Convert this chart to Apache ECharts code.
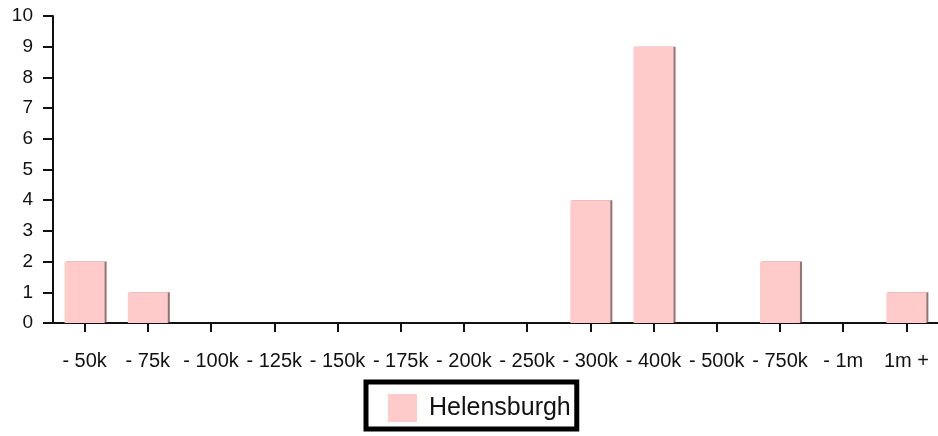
<!DOCTYPE html>
<html>
<head>
<meta charset="utf-8">
<script src="https://cdn.jsdelivr.net/npm/echarts@6/dist/echarts.min.js"></script>
<style>
  html, body { margin: 0; padding: 0; background: #fff; }
  #chart { width: 938px; height: 436px; }
</style>
</head>
<body>
<div id="chart"></div>
<script>
const categories = ['- 50k', '- 75k', '- 100k', '- 125k', '- 150k', '- 175k', '- 200k',
  '- 250k', '- 300k', '- 400k', '- 500k', '- 750k', '- 1m', '1m +']
const helensburgh = [2, 1, 0, 0, 0, 0, 0, 0, 4, 9, 0, 2, 0, 1]
const yTicks = [0, 10, 1]  // min, max, interval

const font = '"Liberation Sans", Arial, sans-serif'
const chart = echarts.init(document.getElementById('chart'))

chart.setOption({
  animation: false,
  grid: {
    left: 53,
    right: -6,
    top: 16,
    bottom: 113
  },
  legend: {
    data: [{ name: 'Helensburgh', icon: 'rect' }],
    left: 366,
    top: 382,
    padding: [12, 6, 7, 22],
    borderColor: '#000',
    borderWidth: 5,
    itemWidth: 29,
    itemHeight: 28,
    textStyle: {
      fontFamily: font,
      fontSize: 25,
      color: '#111',
      padding: [0, 0, 0, 7]
    }
  },
  xAxis: {
    type: 'category',
    data: categories,
    axisLine: { lineStyle: { color: '#111', width: 2 } },
    axisTick: { show: true, alignWithLabel: true, length: 9, lineStyle: { color: '#111', width: 2 } },
    axisLabel: { margin: 28, fontFamily: font, fontSize: 20, color: '#111', interval: 0 }
  },
  yAxis: {
    type: 'value',
    min: yTicks[0],
    max: yTicks[1],
    interval: yTicks[2],
    splitLine: { show: false },
    axisLine: { show: true, lineStyle: { color: '#111', width: 2 } },
    axisTick: { show: true, length: 10, lineStyle: { color: '#111', width: 2 } },
    axisLabel: { margin: 20, fontFamily: font, fontSize: 19, color: '#111' }
  },
  series: [{
    name: 'Helensburgh',
    type: 'bar',
    data: helensburgh,
    barWidth: 40,
    itemStyle: {
      color: '#ffcaca',
      shadowColor: 'rgba(110, 70, 70, 0.75)',
      shadowOffsetX: 2,
      shadowOffsetY: 0,
      shadowBlur: 0
    }
  }]
})
</script>
</body>
</html>
